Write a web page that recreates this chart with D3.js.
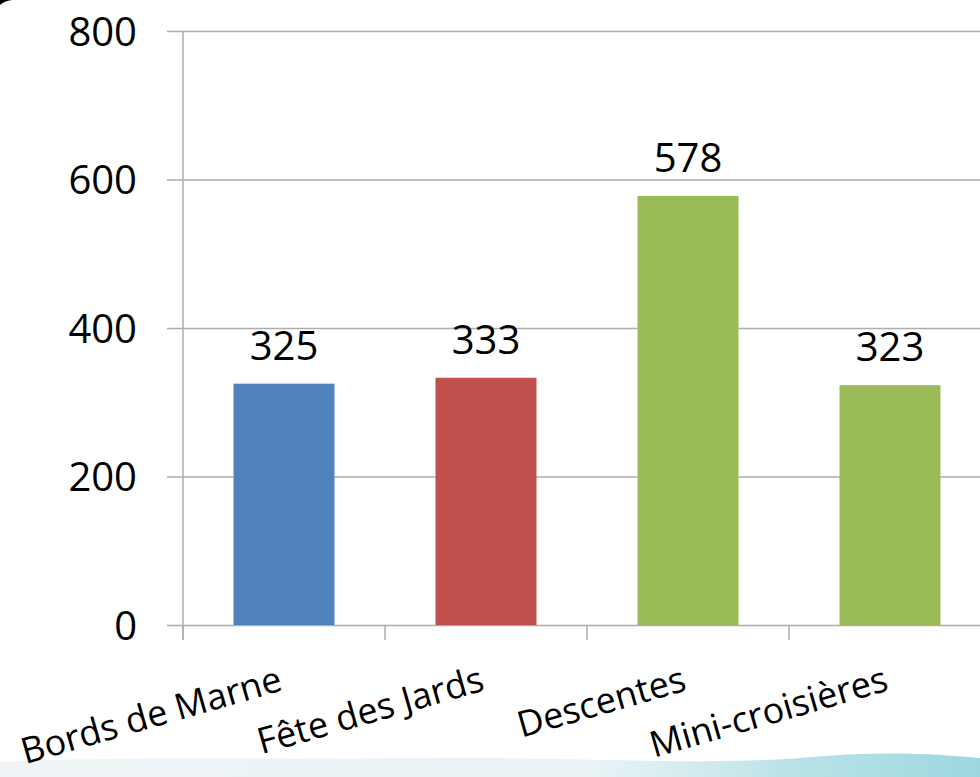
<!DOCTYPE html>
<html>
<head>
<meta charset="utf-8">
<script src="https://cdn.jsdelivr.net/npm/d3@7"></script>
<style>
  html, body { margin: 0; padding: 0; background: #fff; }
  svg { display: block; }
  svg text { font-family: "Open Sans", "DejaVu Sans", sans-serif; }
</style>
</head>
<body>
<div id="chart"></div>
<script>
  // Chart data
  const categories = ["Bords de Marne", "Fête des Jards", "Descentes", "Mini-croisières"];
  const values = [325, 333, 578, 323];
  const barColors = ["#4f81bd", "#c0504d", "#9bbb59", "#9bbb59"];
  const yTicks = [0, 200, 400, 600, 800];

  const [w, h] = [980, 777];
  const x0 = 183;
  const bandW = 202;
  const yTop = 31;
  const yBase = 625;
  const gridColor = "#adadad";
  const fontFam = "'Open Sans', 'DejaVu Sans', sans-serif";

  const svg = d3.select("#chart")
    .append("svg")
    .attr("width", w)
    .attr("height", h);

  // background decoration at the bottom (slide theme)
  const defs = svg.append("defs");
  const grad = defs.append("linearGradient")
    .attr("id", "wave")
    .attr("x1", 0).attr("x2", 1).attr("y1", 0).attr("y2", 0);
  grad.append("stop").attr("offset", "0%").attr("stop-color", "#dce6ec").attr("stop-opacity", 0.45);
  grad.append("stop").attr("offset", "60%").attr("stop-color", "#d3e8ec").attr("stop-opacity", 0.5);
  grad.append("stop").attr("offset", "80%").attr("stop-color", "#a9dce2").attr("stop-opacity", 0.8);
  grad.append("stop").attr("offset", "100%").attr("stop-color", "#92d3dc").attr("stop-opacity", 0.9);

  svg.append("path")
    .attr("d", "M0,762 C120,756 260,760 400,758 C560,756 700,766 800,758 C880,750 940,754 980,758 L980,777 L0,777 Z")
    .attr("fill", "url(#wave)");

  // corner arc (slide edge)
  svg.append("path")
    .attr("d", "M0,5 Q4,1 12,0 L0,0 Z")
    .attr("fill", "#000");

  const x = d3.scaleBand()
    .domain(categories)
    .range([x0, x0 + bandW * categories.length])
    .paddingInner(0.5)
    .paddingOuter(0.25);

  const y = d3.scaleLinear()
    .domain([0, 800])
    .range([yBase, yTop]);

  // gridlines + y labels
  const yAxis = d3.axisLeft(y)
    .tickValues(yTicks)
    .tickSize(-(w - 167))
    .tickPadding(30)
    .tickFormat(d3.format("d"));

  const gy = svg.append("g")
    .attr("transform", `translate(167,0)`)
    .call(yAxis)
    .attr("font-family", fontFam);
  gy.select(".domain").remove();
  gy.selectAll(".tick line")
    .attr("stroke", gridColor)
    .attr("stroke-width", 1.5);
  gy.selectAll(".tick text")
    .attr("font-size", 40)
    .attr("fill", "#000")
    .attr("dy", "0.36em");

  // vertical axis line
  svg.append("line")
    .attr("x1", x0).attr("x2", x0)
    .attr("y1", yTop).attr("y2", yBase + 15)
    .attr("stroke", gridColor)
    .attr("stroke-width", 1.5);

  // category ticks between bands
  svg.selectAll(".ctick")
    .data(d3.range(categories.length + 1))
    .enter()
    .append("line")
    .attr("class", "ctick")
    .attr("x1", (d) => x0 + d * bandW)
    .attr("x2", (d) => x0 + d * bandW)
    .attr("y1", yBase)
    .attr("y2", yBase + 15)
    .attr("stroke", gridColor)
    .attr("stroke-width", 1.5);

  // bars
  svg.selectAll(".bar")
    .data(values)
    .enter()
    .append("rect")
    .attr("class", "bar")
    .attr("x", (d, i) => x(categories[i]))
    .attr("y", (d) => y(d))
    .attr("width", x.bandwidth())
    .attr("height", (d) => yBase - y(d))
    .attr("fill", (d, i) => barColors[i]);

  // value labels
  svg.selectAll(".val")
    .data(values)
    .enter()
    .append("text")
    .attr("class", "val")
    .attr("x", (d, i) => x(categories[i]) + x.bandwidth() / 2)
    .attr("y", (d) => y(d) - 24)
    .attr("text-anchor", "middle")
    .attr("font-family", fontFam)
    .attr("font-size", 40)
    .attr("fill", "#000")
    .text((d) => d);

  // rotated category labels
  svg.selectAll(".cat")
    .data(categories)
    .enter()
    .append("text")
    .attr("class", "cat")
    .attr("transform", (d) => `translate(${x(d) + x.bandwidth() / 2},690) rotate(-16)`)
    .attr("text-anchor", "end")
    .attr("font-family", fontFam)
    .attr("font-size", 36)
    .attr("fill", "#000")
    .text((d) => d);
</script>
</body>
</html>
